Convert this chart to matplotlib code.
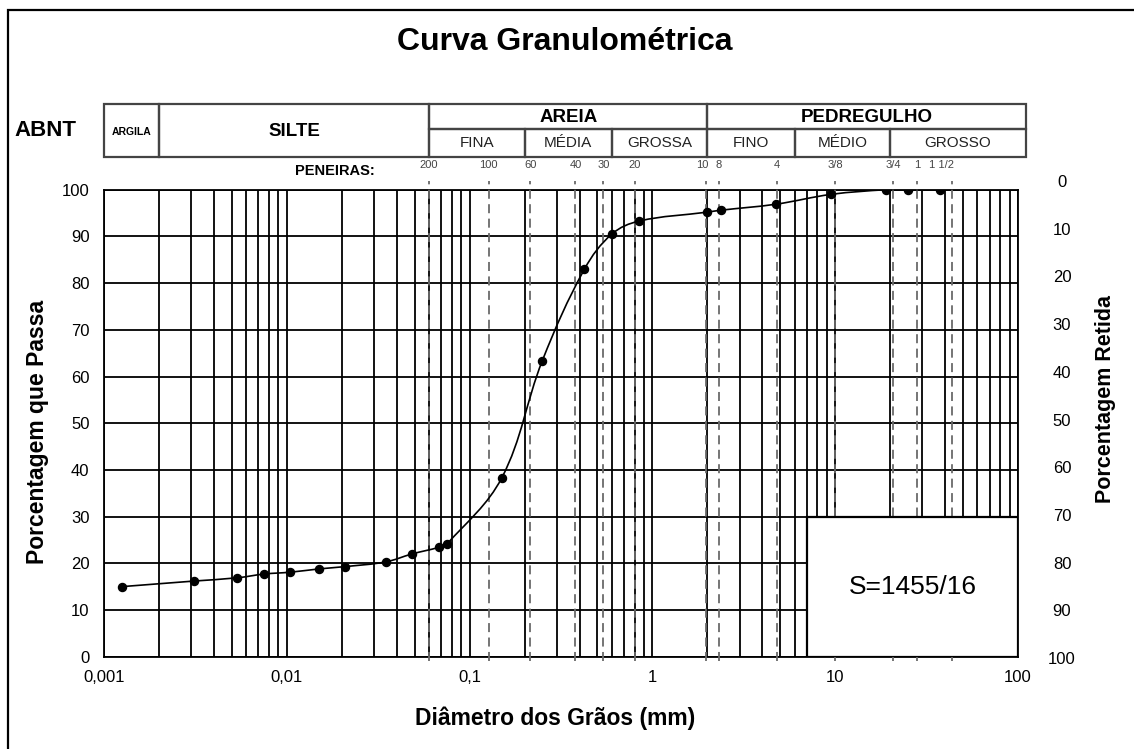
import numpy as np
import matplotlib
matplotlib.use("Agg")
import matplotlib.pyplot as plt
from matplotlib.path import Path
from matplotlib.patches import PathPatch, Rectangle

plt.rcParams['font.family'] = ['Liberation Sans', 'DejaVu Sans']

W, H = 1134, 749

# ensaio: diametro (mm) x porcentagem que passa
diametro = [0.00125, 0.00311, 0.00537, 0.00752, 0.01047, 0.01503, 0.02094, 0.0348,
            0.0484, 0.0677, 0.075, 0.15, 0.25, 0.425, 0.6, 0.85, 2.0, 2.36, 4.75,
            9.5, 19.0, 25.0, 37.5]
passa = [15.0, 16.2, 16.9, 17.7, 18.1, 18.8, 19.3, 20.3,
         22.0, 23.4, 24.1, 38.3, 63.4, 83.0, 90.5, 93.3, 95.2, 95.6, 96.9,
         99.0, 100.0, 100.0, 100.0]

# peneiras (linhas tracejadas)
peneiras = ["200", "100", "60", "40", "30", "20", "10", "8", "4", "3/8", "3/4", "1", "1 1/2"]
peneiras_pos = [0.06, 0.127, 0.215, 0.379, 0.54, 0.80, 1.97, 2.30, 4.82, 10.0, 20.7, 28.0, 43.6]

# classificacao ABNT
classes = ["ARGILA", "SILTE", "AREIA", "PEDREGULHO"]
classes_lim = [0.001, 0.002, 0.06, 2.0, 110.0]
subclasses = ["FINA", "MÉDIA", "GROSSA", "FINO", "MÉDIO", "GROSSO"]
subclasses_lim = [0.06, 0.2, 0.6, 2.0, 6.0, 20.0, 110.0]

xticks = [0.001, 0.01, 0.1, 1, 10, 100]
xticklabels = ["0,001", "0,01", "0,1", "1", "10", "100"]
yticks = list(range(0, 101, 10))

nota = "S=1455/16"


def fx(px):
    return px / W


def fy(py):
    return 1 - py / H


def smooth_path(ax, xs, ys, k=0.36):
    # curva suavizada (bezier) passando pelos pontos, feita em coordenadas de tela
    P = ax.transData.transform(np.column_stack([xs, ys]))
    n = len(P)
    d = np.hypot(*np.diff(P, axis=0).T)
    verts = [P[0]]
    codes = [Path.MOVETO]
    for i in range(n - 1):
        if i == 0:
            c1 = P[0] + (P[1] - P[0]) / 3
        else:
            t1 = P[i + 1] - P[i - 1]
            c1 = P[i] + t1 * k * d[i] / (d[i - 1] + d[i])
        if i + 1 == n - 1:
            c2 = P[i + 1] - (P[i + 1] - P[i]) / 3
        else:
            t2 = P[i + 2] - P[i]
            c2 = P[i + 1] - t2 * k * d[i] / (d[i] + d[i + 1])
        verts += [c1, c2, P[i + 1]]
        codes += [Path.CURVE4] * 3
    verts = ax.transData.inverted().transform(np.array(verts))
    return Path(verts, codes)


fig = plt.figure(figsize=(W / 100, H / 100), dpi=100)

# borda externa
fig.add_artist(Rectangle((fx(8), fy(760)), fx(1140), fy(10) - fy(760),
                         transform=fig.transFigure, fill=False, edgecolor="black", lw=1.6))

x0, x1 = 104, 1018
ax = fig.add_axes([fx(x0), fy(656.7), fx(x1 - x0), (656.7 - 189.7) / H])
ax.set_xscale("log")
ax.set_xlim(0.001, 100)
ax.set_ylim(0, 100)
ax.set_xticks(xticks)
ax.set_xticklabels(xticklabels)
ax.set_xticks([m * 10.0 ** e for e in range(-3, 2) for m in range(2, 10)], minor=True)
ax.set_yticks(yticks)
ax.tick_params(which="both", length=0)
ax.tick_params(axis="y", labelsize=12, pad=10.5)
ax.tick_params(axis="x", labelsize=12, pad=9.5)
ax.grid(True, which="both", color="black", lw=1.3)
for s in ax.spines.values():
    s.set_linewidth(1.3)

ax.vlines(peneiras_pos, -0.9, 101.8, colors="#6a6a6a", linestyles=(0, (5, 3)),
          lw=1.3, clip_on=False, zorder=3)
for lb, p in zip(peneiras, peneiras_pos):
    ha = "right" if lb in ("10", "1 1/2") else "center"
    xp = p * 1.03 if ha == "right" else p
    ax.text(xp, 105.3, lb, fontsize=8, ha=ha, va="center", color="#444444", clip_on=False)
ax.text(0.0183, 103.9, "PENEIRAS:", fontsize=10.5, fontweight="bold", ha="center", va="center")

ax.add_patch(PathPatch(smooth_path(ax, diametro, passa), fill=False, edgecolor="black", lw=1.2, zorder=4))
ax.plot(diametro, passa, "o", color="black", ms=5.8, zorder=4)

ax.add_patch(Rectangle((7, 0), 93, 30, facecolor="white", edgecolor="black", lw=1.6, zorder=6))
ax.text(np.sqrt(7 * 100), 15, nota, fontsize=19, ha="center", va="center", zorder=7)

# eixo da direita: porcentagem retida
axr = fig.add_axes([fx(x0), fy(658), fx(x1 - x0), (658 - 181) / H])
axr.patch.set_visible(False)
for s in axr.spines.values():
    s.set_visible(False)
axr.set_ylim(100, 0)
axr.set_yticks(yticks)
axr.set_xticks([])
axr.yaxis.tick_right()
axr.tick_params(axis="y", length=0, labelsize=12, pad=31.7)
for lbl in axr.get_yticklabels():
    lbl.set_horizontalalignment("center")

# cabecalho ABNT
hx = fig.add_axes([fx(x0), fy(157), fx(x1 - x0), 53 / H])
hx.set_xscale("log")
hx.set_xlim(0.001, 100)
hx.set_ylim(0, 1)
hx.axis("off")
mid = 28 / 53
hc = "#444444"
for i, nome in enumerate(classes):
    a, b = classes_lim[i], classes_lim[i + 1]
    if nome in ("ARGILA", "SILTE"):
        hx.add_patch(Rectangle((a, 0), b - a, 1, fill=False, edgecolor=hc, lw=1.6, clip_on=False))
        fs = 7.5 if nome == "ARGILA" else 13.5
        hx.text(np.sqrt(a * b), 0.48, nome, fontsize=fs, fontweight="bold", ha="center", va="center")
    else:
        hx.add_patch(Rectangle((a, mid), b - a, 1 - mid, fill=False, edgecolor=hc, lw=1.6, clip_on=False))
        hx.text(np.sqrt(a * b), 0.74, nome, fontsize=13.5, fontweight="bold", ha="center", va="center")
for i, nome in enumerate(subclasses):
    a, b = subclasses_lim[i], subclasses_lim[i + 1]
    hx.add_patch(Rectangle((a, 0), b - a, mid, fill=False, edgecolor=hc, lw=1.6, clip_on=False))
    hx.text(np.sqrt(a * b), 0.26, nome, fontsize=11, ha="center", va="center", color="#222222")

fig.text(fx(45), fy(130), "ABNT", fontsize=16, fontweight="bold", ha="center", va="center")
fig.text(fx(565), fy(42), "Curva Granulométrica", fontsize=23, fontweight="bold", ha="center", va="center")
fig.text(fx(555), fy(718), "Diâmetro dos Grãos (mm)", fontsize=16.5, fontweight="bold", ha="center", va="center")
fig.text(fx(38), fy(432), "Porcentagem que Passa", fontsize=16.5, fontweight="bold", rotation=90,
         ha="center", va="center")
fig.text(fx(1106), fy(399), "Porcentagem Retida", fontsize=15.5, fontweight="bold", rotation=90,
         ha="center", va="center")

fig.savefig("out.png", dpi=100)
